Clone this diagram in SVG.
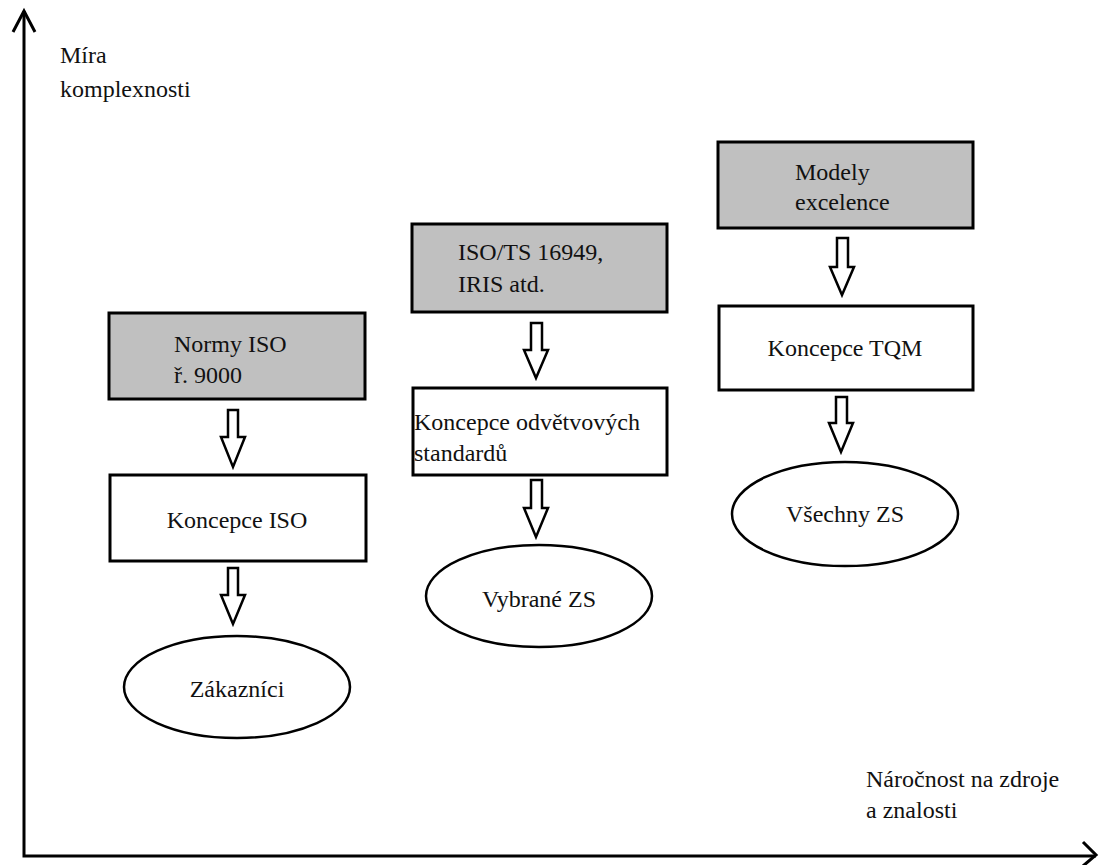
<svg xmlns="http://www.w3.org/2000/svg" width="1099" height="865" viewBox="0 0 1099 865" font-family="Liberation Serif, DejaVu Serif, Times New Roman, serif" font-size="24">
<style>
text{font-family:"Liberation Serif","DejaVu Serif","Times New Roman",serif;font-size:24px;fill:#111}
.g{fill:#c0c0c0;stroke:#000;stroke-width:3}
.w{fill:#fff;stroke:#000;stroke-width:3}
.e{fill:#fff;stroke:#000;stroke-width:2.5}
.ar{fill:#fff;stroke:#000;stroke-width:2.5;stroke-linejoin:miter}
.ax{fill:none;stroke:#000;stroke-width:3}
</style>
<rect width="1099" height="865" fill="#fff"/>
<g id="axes">
<path class="ax" d="M24,11 V856 H1096"/>
<path class="ax" d="M13,32 L24,11 L35,32"/>
<path class="ax" d="M1083,842 L1096,855 L1083,866"/>
<text x="60" y="63">Míra</text>
<text x="60" y="97">komplexnosti</text>
<text x="866" y="787">Náročnost na zdroje</text>
<text x="866" y="818">a znalosti</text>
</g>
<g id="normy">
<rect class="g" x="109" y="313" width="256" height="86"/>
<text x="174" y="352">Normy ISO</text>
<text x="174" y="383">ř. 9000</text>
</g>
<g id="koncepce-iso">
<rect class="w" x="110" y="475" width="256" height="86"/>
<text x="237" y="528" text-anchor="middle">Koncepce ISO</text>
</g>
<g id="zakaznici">
<ellipse class="e" cx="237" cy="687" rx="113" ry="51"/>
<text x="237" y="697" text-anchor="middle">Zákazníci</text>
</g>
<g id="isots">
<rect class="g" x="412" y="224" width="255" height="88"/>
<text x="458" y="260">ISO/TS 16949,</text>
<text x="458" y="292">IRIS atd.</text>
</g>
<g id="koncepce-odv">
<rect class="w" x="413" y="388" width="254" height="87"/>
<text x="414" y="430">Koncepce odvětvových</text>
<text x="414" y="461">standardů</text>
</g>
<g id="vybrane">
<ellipse class="e" cx="539" cy="596" rx="113" ry="51"/>
<text x="539" y="607" text-anchor="middle">Vybrané ZS</text>
</g>
<g id="modely">
<rect class="g" x="718" y="142" width="255" height="86"/>
<text x="795" y="180">Modely</text>
<text x="795" y="210">excelence</text>
</g>
<g id="koncepce-tqm">
<rect class="w" x="719" y="306" width="254" height="84"/>
<text x="845" y="356" text-anchor="middle">Koncepce TQM</text>
</g>
<g id="vsechny">
<ellipse class="e" cx="845" cy="514" rx="113" ry="52"/>
<text x="845" y="522" text-anchor="middle">Všechny ZS</text>
</g>
<g id="connectors">
<polygon class="ar" points="228,410 238,410 238,437 245,437 233,467 221,437 228,437"/>
<polygon class="ar" points="228,568 238,568 238,595 245,595 233,624 221,595 228,595"/>
<polygon class="ar" points="531,323 542,323 542,350 548,350 536,378 524,350 531,350"/>
<polygon class="ar" points="531,480 542,480 542,508 548,508 536,537 524,508 531,508"/>
<polygon class="ar" points="837,238 848,238 848,267 854,267 842,295 830,267 837,267"/>
<polygon class="ar" points="836,397 847,397 847,423 853,423 841,452 829,423 836,423"/>
</g>
</svg>
